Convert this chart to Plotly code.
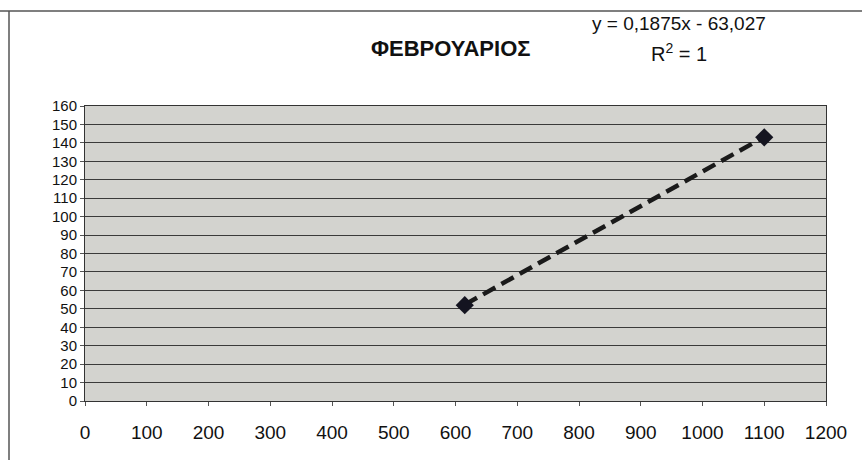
import plotly.graph_objects as go

# Data
x_vals = [615, 1100]
y_vals = [52, 143]
slope = 0.1875
intercept = -63.027
title_text = "ΦΕΒΡΟΥΑΡΙΟΣ"
eq_text = "y = 0,1875x - 63,027"
r2_text = "R<sup>2</sup> = 1"
x_ticks = list(range(0, 1201, 100))
y_ticks = list(range(0, 161, 10))

trend_x = [min(x_vals), max(x_vals)]
trend_y = [slope * v + intercept for v in trend_x]

fig = go.Figure()
fig.add_trace(go.Scatter(
    x=trend_x, y=trend_y, mode="lines",
    line=dict(color="#1a1a1a", width=4.5, dash="14px,7px"),
    showlegend=False, hoverinfo="skip"))
fig.add_trace(go.Scatter(
    x=x_vals, y=y_vals, mode="markers",
    marker=dict(symbol="diamond", size=14, color="#141420"),
    showlegend=False))

font_family = "Liberation Sans, Arial, sans-serif"

fig.update_layout(
    width=862, height=468,
    margin=dict(l=85, r=36, t=106, b=67),
    paper_bgcolor="white",
    plot_bgcolor="#d3d3cf",
    font=dict(family=font_family, size=15, color="#111111"),
    xaxis=dict(range=[0, 1200], tickvals=x_ticks, showgrid=False, zeroline=False,
               showline=True, linecolor="#333333", linewidth=1, mirror=True,
               ticks="outside", ticklen=4, tickcolor="#555555",
               ticklabelstandoff=10,
               tickfont=dict(size=19, family=font_family), fixedrange=True),
    yaxis=dict(range=[0, 160], tickvals=y_ticks, showgrid=True, gridcolor="#3a3a3a",
               gridwidth=1, zeroline=False,
               showline=True, linecolor="#333333", linewidth=1, mirror=True,
               ticks="outside", ticklen=4, tickcolor="#555555",
               tickfont=dict(size=15, family=font_family), fixedrange=True),
    shapes=[
        dict(type="line", xref="paper", yref="paper", x0=-85/741, x1=-85/741 + 862/741,
             y0=1 + 95/295, y1=1 + 95/295, line=dict(color="#555555", width=1.5)),
        dict(type="line", xref="paper", yref="paper", x0=-76/741, x1=-76/741,
             y0=1 + 95/295, y1=-59/295, line=dict(color="#555555", width=1.5)),
    ],
    annotations=[
        dict(text="<b>" + title_text + "</b>", xref="paper", yref="paper",
             x=(450 - 85) / 741, y=1 + (106 - 48) / 295, showarrow=False,
             font=dict(size=22, family=font_family), xanchor="center", yanchor="middle"),
        dict(text=eq_text, xref="paper", yref="paper",
             x=(679 - 85) / 741, y=1 + (106 - 24) / 295, showarrow=False,
             font=dict(size=19, family=font_family), xanchor="center", yanchor="middle"),
        dict(text=r2_text, xref="paper", yref="paper",
             x=(679 - 85) / 741, y=1 + (106 - 52) / 295, showarrow=False,
             font=dict(size=20, family=font_family), xanchor="center", yanchor="middle"),
    ],
)

fig.write_html("out.html")
